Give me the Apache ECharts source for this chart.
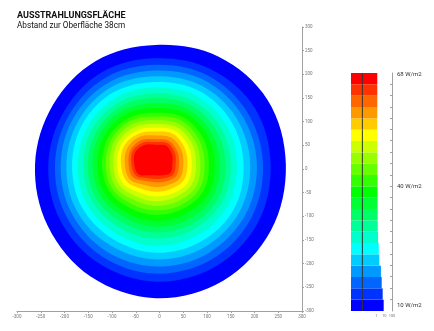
<!DOCTYPE html>
<html>
<head>
<meta charset="utf-8">
<script src="https://cdn.jsdelivr.net/npm/echarts@6/dist/echarts.min.js"></script>
<style>
  html, body { margin: 0; padding: 0; background: #fff; }
  #chart { width: 434px; height: 331px; }
</style>
</head>
<body>
<div id="chart"></div>
<script>
// Colour of each irradiance band, lowest (outer edge) to highest (hot spot)
const bandColors = [
  '#0000ff', '#0033ff', '#0066ff', '#0099ff', '#00ccff', '#00ffff', '#00ffcc',
  '#00ff99', '#00ff66', '#00ff33', '#00ff00', '#33ff00', '#66ff00', '#99ff00',
  '#ccff00', '#ffff00', '#ffcc00', '#ff9900', '#ff6600', '#ff3300', '#ff0000'
];

// Directions (degrees) along which the band edges are measured
const rayAngles = [0, 30, 60, 90, 120, 150, 180, 210, 240, 270, 300, 330];

// Point (mm) that the radial measurements start from
const contourCenter = [-8, 10];

// Outer edge of each band (mm from contourCenter), one row per band, one column per ray
const contourRadii = [
  [274, 272, 263, 252, 252, 250, 254, 262, 274, 283, 284, 280],
  [242, 240, 232, 224, 225, 223, 226, 233, 241, 248, 250, 248],
  [226, 222, 217, 210, 211, 210, 212, 218, 225, 231, 233, 231],
  [213, 209, 205, 198, 199, 199, 200, 205, 211, 216, 218, 217],
  [199, 196, 192, 186, 188, 187, 188, 193, 196, 201, 203, 203],
  [185, 183, 180, 174, 176, 176, 176, 180, 182, 187, 189, 190],
  [171, 170, 168, 162, 164, 164, 164, 168, 168, 172, 174, 175],
  [158, 157, 155, 150, 152, 153, 152, 155, 154, 157, 159, 161],
  [147, 146, 145, 140, 143, 143, 143, 145, 142, 144, 147, 150],
  [135, 135, 135, 129, 133, 134, 133, 134, 130, 132, 135, 138],
  [124, 125, 125, 119, 123, 124, 123, 124, 119, 120, 122, 127],
  [112, 114, 115, 109, 113, 115, 113, 113, 107, 107, 110, 115],
  [103, 105, 107, 101, 106, 107, 105, 105,  98,  97, 101, 106],
  [ 94,  96,  98,  93,  98, 100,  97,  97,  88,  88,  91,  97],
  [ 85,  88,  90,  85,  90,  92,  89,  88,  79,  78,  81,  87],
  [ 76,  79,  82,  77,  82,  84,  81,  80,  69,  68,  71,  78],
  [ 67,  70,  74,  69,  74,  77,  73,  71,  60,  58,  61,  68],
  [ 58,  62,  65,  61,  67,  69,  65,  63,  50,  48,  51,  59],
  [ 49,  53,  57,  53,  59,  61,  57,  55,  41,  38,  42,  50],
  [ 42,  47,  51,  47,  53,  56,  51,  48,  34,  31,  34,  43],
  [ 35,  40,  45,  41,  47,  50,  45,  42,  27,  23,  27,  36]
];

// Share of the surface covered by each band (legend bars, log scale)
const bandShare = [8.6, 6.4, 4.8, 3.8, 2.4, 2.0, 1.65, 1.5, 1.45, 1.4, 1.4,
                   1.4, 1.35, 1.35, 1.35, 1.3, 1.3, 1.3, 1.3, 1.3, 1.3];

// Irradiance scale of the legend (W/m2)
const scaleMin = 8.74;
const scaleMax = 68.5;
const scaleLabels = [10, 40, 68];
const scaleTicks = [65.7, 62.8, 60.0, 57.1, 54.3, 51.5, 48.6, 45.8, 42.9, 40.1,
                    37.3, 34.4, 31.6, 28.7, 25.9, 23.1, 20.2, 17.4, 14.5, 11.7];
const scaleRuleValue = 0.016;

const titleText = 'AUSSTRAHLUNGSFLÄCHE';
const subtitleText = 'Abstand zur Oberfläche 38cm';

const chart = echarts.init(document.getElementById('chart'), null, { renderer: 'canvas' });

function renderContour(params, api) {
  const k = api.value(2);
  const radii = contourRadii[k];
  const pts = radii.map((r, i) => {
    const a = rayAngles[i] * Math.PI / 180;
    return api.coord([contourCenter[0] + r * Math.cos(a), contourCenter[1] + r * Math.sin(a)]);
  });
  return {
    type: 'polygon',
    shape: { points: pts, smooth: 0.35 },
    style: { fill: bandColors[k] }
  };
}

function renderBand(params, api) {
  const idx = api.value(1);
  const end = api.coord([api.value(0), idx]);
  const h = params.coordSys.height / bandColors.length;
  const x0 = params.coordSys.x;
  const ruleX = api.coord([scaleRuleValue, idx])[0];
  return {
    type: 'group',
    children: [
      { type: 'rect', shape: { x: x0, y: end[1] - h / 2, width: end[0] - x0, height: h },
        style: { fill: bandColors[idx] } },
      { type: 'line', shape: { x1: ruleX, y1: end[1] - h / 2, x2: ruleX, y2: end[1] + h / 2 },
        style: { stroke: '#333', lineWidth: 1 } }
    ]
  };
}

const axisGray = '#a0a0a0';
const tinyLabel = { fontSize: 4.5, color: '#777', fontFamily: 'Roboto' };

chart.setOption({
  animation: false,
  backgroundColor: '#fff',
  title: {
    text: titleText,
    subtext: subtitleText,
    left: 17,
    top: 11,
    padding: 0,
    itemGap: 2,
    textStyle: { fontSize: 9, fontWeight: 'bold', color: '#111', fontFamily: 'Roboto' },
    subtextStyle: { fontSize: 8.2, color: '#111', fontFamily: 'Roboto' }
  },
  grid: [
    { left: 17, right: 132, top: 27, bottom: 20 },
    { left: 351, right: 42, top: 73, bottom: 20 }
  ],
  xAxis: [
    {
      gridIndex: 0, type: 'value', min: -300, max: 300, interval: 50,
      axisLine: { onZero: false, lineStyle: { color: axisGray } },
      axisTick: { length: 2, lineStyle: { color: axisGray } },
      axisLabel: Object.assign({ margin: 3 }, tinyLabel),
      splitLine: { show: false }
    },
    {
      gridIndex: 1, type: 'log', min: 0.00056, max: 100,
      axisLine: { show: false },
      axisTick: { show: false },
      axisLabel: Object.assign({
        margin: 3,
        formatter: v => (v >= 0.999 ? String(Math.round(v)) : '')
      }, tinyLabel, { fontSize: 4 }),
      splitLine: { show: false }
    }
  ],
  yAxis: [
    {
      gridIndex: 0, type: 'value', position: 'right', min: -300, max: 300, interval: 50,
      axisLine: { onZero: false, lineStyle: { color: axisGray } },
      axisTick: { length: 2, lineStyle: { color: axisGray } },
      axisLabel: Object.assign({ margin: 3 }, tinyLabel),
      splitLine: { show: false }
    },
    {
      gridIndex: 1, type: 'category', data: bandColors.map((c, i) => i),
      show: false
    },
    {
      gridIndex: 1, type: 'value', position: 'right', min: scaleMin, max: scaleMax,
      axisLine: { show: true, lineStyle: { color: axisGray } },
      axisTick: { show: true, inside: true, length: 2, customValues: scaleTicks,
                  lineStyle: { color: axisGray } },
      axisLabel: { customValues: scaleLabels, margin: 5, fontSize: 6, color: '#333',
                   fontFamily: 'Roboto', formatter: v => v + ' W/m2' },
      splitLine: { show: false }
    }
  ],
  series: [
    {
      type: 'custom',
      xAxisIndex: 0, yAxisIndex: 0,
      renderItem: renderContour,
      encode: { x: 0, y: 1 },
      data: contourRadii.map((r, k) => [contourCenter[0], contourCenter[1], k]),
      silent: true
    },
    {
      type: 'custom',
      xAxisIndex: 1, yAxisIndex: 1,
      renderItem: renderBand,
      encode: { x: 0, y: 1 },
      data: bandShare.map((v, i) => [v, i]),
      silent: true
    }
  ]
});
</script>
</body>
</html>
